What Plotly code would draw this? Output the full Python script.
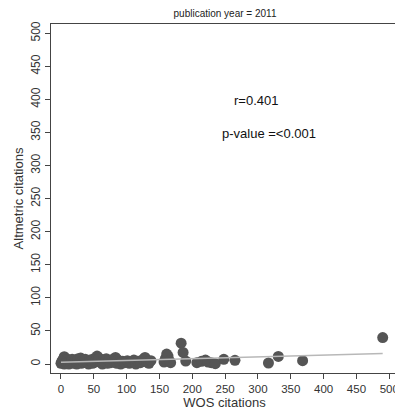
import numpy as np
import plotly.graph_objects as go

wos = [0, 1, 2, 3, 4, 5, 5, 6, 7, 8, 9, 10, 11, 12, 14, 15, 17, 19, 20, 22, 24, 25, 26, 28, 30, 31, 33, 35, 37, 40,
       42, 44, 46, 48, 50, 52, 55, 56, 58, 61, 63, 65, 67, 69, 71, 73, 76, 79, 81, 83, 85, 87, 89, 91, 94, 97, 101,
       104, 107, 111, 114, 117, 121, 125, 128, 131, 134, 137,
       157, 159, 161, 163, 165, 167,
       183, 186, 190, 207, 214, 220, 224, 229, 235,
       248, 265, 316, 331, 368, 490]
alt = [1, 3, 5, 2, 8, 11, 0, 6, 2, 4, 1, 7, 3, 0, 5, 2, 7, 1, 4, 6, 0, 3, 8, 2, 9, 1, 5, 3, 7, 2,
       0, 6, 4, 1, 8, 3, 12, 5, 9, 2, 0, 6, 3, 8, 1, 5, 2, 7, 4, 10, 1, 6, 3, 0, 4, 2, 5,
       1, 3, 6, 0, 4, 2, 7, 10, 3, 1, 5,
       3, 8, 15, 12, 5, 2,
       31.5, 17.5, 4.5, 2, 4, 6, 3, 2, 0.5,
       7, 5.5, 1.5, 11.5, 5, 40]

x_ticks = list(range(0, 501, 50))
y_ticks = list(range(0, 501, 50))

title_text = "publication year = 2011"
r_text = "r=0.401"
p_text = "p-value =<0.001"

slope, intercept = np.polyfit(wos, alt, 1)
fx = np.array([min(wos), max(wos)])
fy = intercept + slope * fx

fig = go.Figure()
fig.add_trace(go.Scatter(x=wos, y=alt, mode="markers",
                         marker=dict(size=11, color="#555555", line=dict(width=0)),
                         showlegend=False))
fig.add_trace(go.Scatter(x=fx, y=fy, mode="lines",
                         line=dict(color="#b8b8b8", width=1.5), showlegend=False))

fig.add_annotation(x=297, y=398, text=r_text, showarrow=False,
                   font=dict(family="Liberation Sans, Arial", size=13, color="#111"))
fig.add_annotation(x=317, y=349, text=p_text, showarrow=False,
                   font=dict(family="Liberation Sans, Arial", size=13, color="#111"))

fig.update_layout(
    width=395, height=411,
    margin=dict(l=43, r=5, t=16, b=46),
    paper_bgcolor="white", plot_bgcolor="white",
    font=dict(family="Liberation Sans, Arial", size=12, color="#333"),
    title=dict(text=title_text, x=217 / 395, xanchor="center", y=1 - 5 / 411, yanchor="middle",
               font=dict(size=10, color="#222")),
    xaxis=dict(range=[-15.2, 513.3], tickvals=x_ticks, ticks="outside", ticklen=5,
               ticklabeloverflow="allow", automargin=False,
               showline=True, mirror=True, linecolor="#444", linewidth=1,
               showgrid=False, zeroline=False, tickfont=dict(size=11.5),
               title=dict(text="WOS citations", standoff=2, font=dict(size=13))),
    yaxis=dict(range=[-13.6, 514], tickvals=y_ticks, ticks="outside", ticklen=5,
               tickangle=-90, ticklabeloverflow="allow", automargin=False,
               showline=True, mirror=True, linecolor="#444", linewidth=1,
               showgrid=False, zeroline=False, tickfont=dict(size=12),
               title=dict(text="Altmetric citations", standoff=2, font=dict(size=13))),
)

fig.write_html("out.html")
